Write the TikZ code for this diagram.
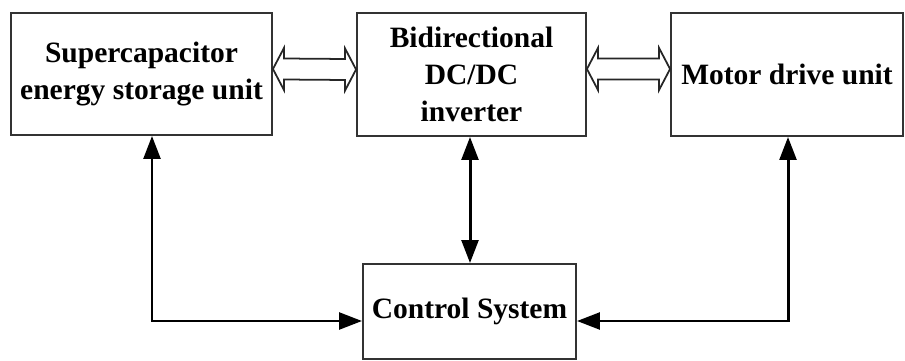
\documentclass[tikz,border=0pt]{standalone}
\usepackage{fontspec}
\setmainfont{Liberation Serif}
\usetikzlibrary{arrows.meta,positioning,calc}

\tikzset{
  block/.style={draw=black!80, line width=1.1pt, align=center, inner sep=0pt,
    font=\fontsize{16.8}{21}\selectfont\bfseries},
  link/.style={line width=1.7pt,
    {Triangle[length=13pt,width=9.5pt]}-{Triangle[length=13pt,width=9.5pt]}},
  hollow/.style={draw=black!85, line width=1pt, fill=white, line join=miter},
}

\begin{document}
\begin{tikzpicture}[x=0.02cm, y=-0.02cm]
    \useasboundingbox (0,0) rectangle (905,361);

    % blocks
    \node[block, minimum width=5.22cm, minimum height=2.44cm] (sc) at (141.5,74)
        {Supercapacitor\\energy storage unit};
    \node[block, minimum width=4.58cm, minimum height=2.46cm] (dc) at (471.5,74.5)
        {Bidirectional\\DC/DC\\inverter};
    \node[block, minimum width=4.64cm, minimum height=2.46cm] (md) at (787,74.5)
        {Motor drive unit};
    \node[block, minimum width=4.26cm, minimum height=1.9cm] (ctrl) at (469.5,311.5)
        {Control System};

    % hollow power arrows
    \coordinate (pa) at ($(sc.east)+(0,-5)$);
    \coordinate (pb) at ($(dc.west)+(0,-5)$);
    \draw[hollow] (pa) -- ++(11,-21) -- ++(0,10.5) -- ($(pb)+(-11,-10.5)$) -- ++(0,-10.5)
        -- (pb) -- ++(-11,21) -- ++(0,-10.5) -- ($(pa)+(11,10.5)$) -- ++(0,10.5) -- cycle;
    \coordinate (pc) at ($(dc.east)+(0,-5.5)$);
    \coordinate (pd) at ($(md.west)+(0,-5.5)$);
    \draw[hollow] (pc) -- ++(11,-21) -- ++(0,10.5) -- ($(pd)+(-11,-10.5)$) -- ++(0,-10.5)
        -- (pd) -- ++(-11,21) -- ++(0,-10.5) -- ($(pc)+(11,10.5)$) -- ++(0,10.5) -- cycle;

    % control links
    \coordinate (lc) at (152,321);
    \coordinate (rc) at (788,321);
    \draw[link] (sc.south -| lc) -- (lc) -- (ctrl.west |- lc);
    \draw[link] (md.south -| rc) -- (rc) -- (ctrl.east |- rc);
    \draw[link] (dc.south -| 470,0) -- (ctrl.north -| 470,0);
\end{tikzpicture}
\end{document}
